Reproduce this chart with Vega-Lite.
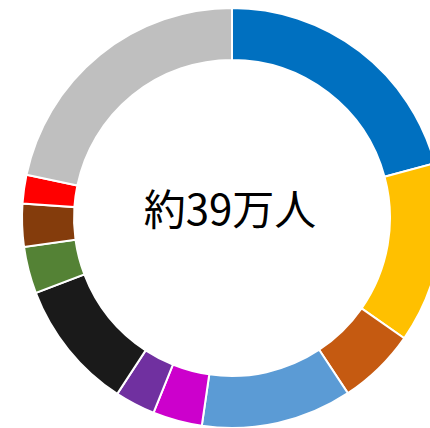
{
  "$schema": "https://vega.github.io/schema/vega-lite/v6.json",
  "width": 464,
  "height": 436,
  "padding": 0,
  "autosize": {"type": "none"},
  "background": "white",
  "view": {"stroke": null},
  "layer": [
    {
      "data": {
        "values": [
          {"cat": "区分1", "order": 1, "value": 20.8},
          {"cat": "区分2", "order": 2, "value": 13.9},
          {"cat": "区分3", "order": 3, "value": 6.0},
          {"cat": "区分4", "order": 4, "value": 11.6},
          {"cat": "区分5", "order": 5, "value": 3.8},
          {"cat": "区分6", "order": 6, "value": 3.1},
          {"cat": "区分7", "order": 7, "value": 10.0},
          {"cat": "区分8", "order": 8, "value": 3.6},
          {"cat": "区分9", "order": 9, "value": 3.3},
          {"cat": "区分10", "order": 10, "value": 2.2},
          {"cat": "区分11", "order": 11, "value": 21.7}
        ]
      },
      "mark": {"type": "arc", "radius": 210, "radius2": 158, "stroke": "white", "strokeWidth": 2},
      "encoding": {
        "theta": {"field": "value", "type": "quantitative", "stack": true},
        "order": {"field": "order", "type": "quantitative"},
        "color": {
          "field": "cat",
          "type": "nominal",
          "legend": null,
          "scale": {
            "domain": ["区分1", "区分2", "区分3", "区分4", "区分5", "区分6", "区分7", "区分8", "区分9", "区分10", "区分11"],
            "range": ["#0070C0", "#FFC000", "#C55A11", "#5B9BD5", "#CC00CC", "#7030A0", "#1A1A1A", "#548235", "#843C0C", "#FF0000", "#BFBFBF"]
          }
        }
      }
    },
    {
      "data": {"values": [{"label": "約39万人"}]},
      "mark": {"type": "text", "font": "Noto Sans CJK JP", "fontSize": 42, "color": "black", "baseline": "middle", "align": "center", "dx": -2, "dy": -6},
      "encoding": {"text": {"field": "label", "type": "nominal"}}
    }
  ]
}
